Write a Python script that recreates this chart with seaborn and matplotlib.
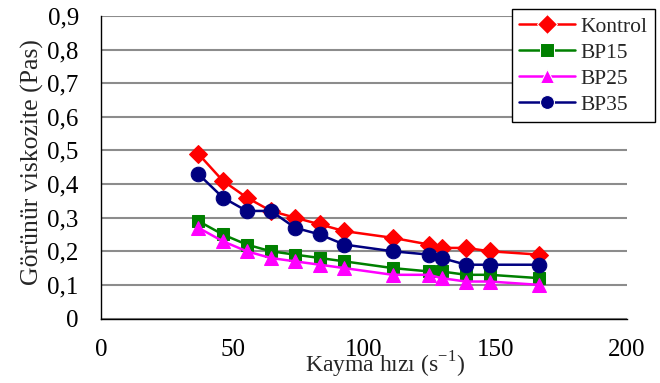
import seaborn as sns
import matplotlib.pyplot as plt
import pandas as pd

# data
shear_rate = [37.0, 46.3, 55.4, 64.6, 73.8, 83.2, 92.5, 110.9, 124.8, 129.5, 138.8, 147.9, 166.7]
kontrol = [0.49, 0.41, 0.36, 0.32, 0.30, 0.28, 0.26, 0.24, 0.22, 0.21, 0.21, 0.20, 0.19]
bp15 = [0.29, 0.25, 0.22, 0.20, 0.19, 0.18, 0.17, 0.15, 0.14, 0.14, 0.13, 0.13, 0.12]
bp25 = [0.27, 0.23, 0.20, 0.18, 0.17, 0.16, 0.15, 0.13, 0.13, 0.12, 0.11, 0.11, 0.10]
bp35 = [0.43, 0.36, 0.32, 0.32, 0.27, 0.25, 0.22, 0.20, 0.19, 0.18, 0.16, 0.16, 0.16]
names = ['Kontrol', 'BP15', 'BP25', 'BP35']

rows = []
for name, vals in zip(names, [kontrol, bp15, bp25, bp35]):
    for x, y in zip(shear_rate, vals):
        rows.append({'x': x, 'y': y, 'grup': name})
df = pd.DataFrame(rows)

colors = {'Kontrol': '#FF0000', 'BP15': '#008000', 'BP25': '#FF00FF', 'BP35': '#000080'}
markers = {'Kontrol': 'D', 'BP15': 's', 'BP25': '^', 'BP35': 'o'}
msize = {'Kontrol': 9.5, 'BP15': 9, 'BP25': 10, 'BP35': 10.5}

sns.set_style("white")
plt.rcParams['font.family'] = ['Liberation Serif', 'DejaVu Serif']

fig = plt.figure(figsize=(6.6, 3.83), dpi=100)
W, H = 660, 383
ax = fig.add_axes([101/W, 1 - 318.5/H, 526/W, 302.5/H])

sns.lineplot(data=df, x='x', y='y', hue='grup', style='grup', palette=colors,
             markers=markers, dashes=False, markersize=10, linewidth=1.8,
             ax=ax)
for line, name in zip(ax.lines, names):
    line.set_markeredgecolor(line.get_color())
    line.set_markersize(msize[name])

ax.set_xlim(0, 200)
ax.set_ylim(0, 0.9)
ax.set_xticks([0, 50, 100, 150, 200])
ax.set_yticks([i / 10 for i in range(10)])
ax.set_yticklabels(['0'] + ['0,%d' % i for i in range(1, 10)])
ax.yaxis.grid(True, color='#8c8c8c', linewidth=1.5)
ax.set_axisbelow(True)

for s in ['top', 'right']:
    ax.spines[s].set_visible(False)
for s in ['left', 'bottom']:
    ax.spines[s].set_color('black')
    ax.spines[s].set_linewidth(1.0)

ax.tick_params(axis='both', labelsize=18, colors='#8c8c8c', labelcolor='black',
               direction='out', width=1.5)
ax.tick_params(axis='y', length=6, pad=10)
ax.tick_params(axis='x', length=5, pad=10)

ax.set_xlabel('Kayma hızı (s$^{\\mathregular{-1}}$)', fontsize=17)
ax.xaxis.label.set_va('baseline')
ax.xaxis.set_label_coords(0.54, (318.5 - 372) / 302.5)
ax.set_ylabel('Görünür viskozite (Pas)', fontsize=18.5)
ax.yaxis.label.set_va('baseline')
ax.yaxis.set_label_coords((39 - 101) / 526, (318.5 - 162.5) / 302.5)

ax.legend(loc='upper right', bbox_to_anchor=(655/W, 1 - 9/H),
          bbox_transform=fig.transFigure, frameon=True, fancybox=False,
          edgecolor='black', fontsize=15.5, title=None, handlelength=2.6,
          handletextpad=0.25, borderaxespad=0, labelspacing=0.28, framealpha=1,
          borderpad=0.35)

fig.savefig('out.png', dpi=100)
